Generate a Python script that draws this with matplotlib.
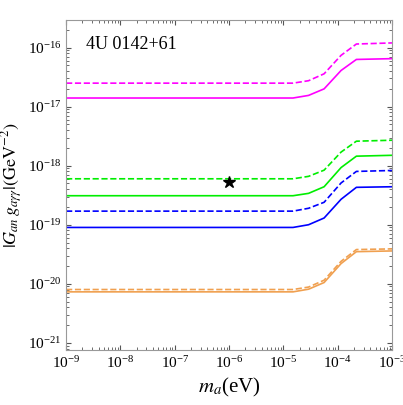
import matplotlib
matplotlib.use("Agg")
import matplotlib.pyplot as plt
import numpy as np

plt.rcParams['font.family'] = ['Liberation Serif', 'DejaVu Serif']
plt.rcParams['mathtext.fontset'] = 'stix'

ma = [1e-9, 1.5e-5, 2.9e-5, 5.6e-5, 1.15e-4, 2.2e-4, 1e-3]
magenta_solid = [1.4e-17, 1.4e-17, 1.55e-17, 2.0e-17, 4.1e-17, 6.3e-17, 6.5e-17]
magenta_dash = [2.5e-17, 2.5e-17, 2.75e-17, 3.6e-17, 7.4e-17, 1.15e-16, 1.2e-16]
green_dash = [6e-19, 6e-19, 6.6e-19, 8.4e-19, 1.7e-18, 2.6e-18, 2.7e-18]
green_solid = [3.1e-19, 3.1e-19, 3.4e-19, 4.4e-19, 9.3e-19, 1.45e-18, 1.5e-18]
blue_dash = [1.7e-19, 1.7e-19, 1.9e-19, 2.4e-19, 5.1e-19, 8.0e-19, 8.3e-19]
blue_solid = [9e-20, 9e-20, 1.0e-19, 1.3e-19, 2.7e-19, 4.3e-19, 4.4e-19]
orange_dash = [8e-21, 8e-21, 8.8e-21, 1.15e-20, 2.4e-20, 3.8e-20, 3.9e-20]
orange_solid = [7.3e-21, 7.3e-21, 8.1e-21, 1.05e-20, 2.2e-20, 3.5e-20, 3.6e-20]
star = (1e-6, 5.3e-19)

fig = plt.figure(figsize=(4.03, 4.05), dpi=100)
ax = fig.add_axes([0.164, 0.136, 0.809, 0.815])
ax.plot(ma, magenta_dash, color='#ff00ff', ls='--', lw=1.2)
ax.plot(ma, magenta_solid, color='#ff00ff', lw=1.2)
ax.plot(ma, green_dash, color='#00ee00', ls='--', lw=1.2)
ax.plot(ma, green_solid, color='#00ee00', lw=1.2)
ax.plot(ma, blue_dash, color='#0000ff', ls='--', lw=1.2)
ax.plot(ma, blue_solid, color='#0000ff', lw=1.2)
ax.plot(ma, orange_dash, color='#f0a050', ls='--', lw=1.2)
ax.plot(ma, orange_solid, color='#f0a050', lw=1.2)
ax.plot([star[0]], [star[1]], marker='*', color='black', ms=9, ls='none')
ax.set_xscale('log'); ax.set_yscale('log')
ax.set_xlim(1e-9, 1e-3)
ax.set_ylim(10**-21.12, 10**-15.53)
ax.set_xticks([10.0**k for k in range(-9, -2)])
ax.set_yticks([10.0**k for k in range(-21, -15)])
ax.tick_params(which='both', direction='in', top=True, right=True, labelsize=11, colors='#555555', labelcolor='black')
for s in ax.spines.values():
    s.set_color('#999999')
ax.set_xlabel(r'$m_a$(eV)', fontsize=15)
ax.set_ylabel(r'$|G_{an}\, g_{a\gamma\gamma}|(\mathrm{GeV}^{-2})$', fontsize=13, labelpad=2)
ax.text(0.06, 0.95, '4U 0142+61', transform=ax.transAxes, fontsize=13, va='top')
fig.savefig('out.png', dpi=100)
